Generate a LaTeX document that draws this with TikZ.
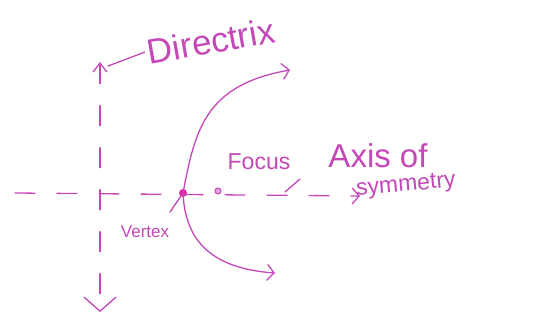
\documentclass[tikz,border=0pt]{standalone}
\usepackage{fontspec}
\setmainfont{Liberation Sans}
\usetikzlibrary{arrows.meta}
\definecolor{inkc}{RGB}{196,72,184}
\definecolor{dotc}{RGB}{220,40,160}
\begin{document}
\begin{tikzpicture}[x=1pt,y=-1pt,
  pen/.style={draw=inkc,line width=1.3pt,line cap=round},
  dashline/.style={pen,dash pattern=on 20pt off 22pt},
  lbl/.style={text=inkc,inner sep=0pt},
  barb/.style={-{Straight Barb[length=7pt,width=16pt,line width=1.3pt]}}]
\useasboundingbox[fill=white] (0,0) rectangle (545,321);
% points
\node[circle,fill=dotc,inner sep=0pt,minimum size=8pt] (vertex) at (183,193) {};
\node[circle,draw=inkc,fill=inkc!50,line width=1pt,inner sep=0pt,minimum size=6pt] (focus) at (218,191) {};
\coordinate (dtop) at (100,62);
\coordinate (dbot) at (100,312);
\coordinate (aleft) at (15,193);
\coordinate (aright) at (360,196);
\coordinate (uend) at (290,70);
\coordinate (lend) at (275,273);
% directrix
\draw[dashline,{Straight Barb[length=9pt,width=14pt,line width=1.3pt]}-{Straight Barb[length=14pt,width=32pt,line width=1.3pt]}] (dtop) -- (dbot);
% axis
\draw[dashline,barb] (aleft) -- (aright);
% parabola
\draw[pen,barb] (vertex.center) .. controls (195,130) and (205,85) .. (uend);
\draw[pen,barb] (vertex.center) .. controls (185,235) and (205,268) .. (lend);
% labels
\node[lbl,rotate=10,font=\fontsize{35}{38}\selectfont] (dirlab) at (211,41) {Directrix};
\node[lbl,font=\fontsize{23}{25}\selectfont] (foclab) at (259,162) {Focus};
\node[lbl,font=\fontsize{33}{35}\selectfont] (axlab) at (378,156) {Axis of};
\node[lbl,rotate=5,font=\fontsize{23}{25}\selectfont] (symlab) at (406,186) {symmetry};
\node[lbl,font=\fontsize{17}{19}\selectfont] (vertlab) at (145,232) {Vertex};
% leaders
\coordinate (dl) at (108,66);
\draw[pen] (dl) -- ([xshift=-3pt]dirlab.west);
\coordinate (vl) at (170,212);
\draw[pen] (vl) -- (vertex);
\coordinate (al) at (285,192);
\coordinate (al2) at (300,179);
\draw[pen] (al) -- (al2);
\end{tikzpicture}
\end{document}
